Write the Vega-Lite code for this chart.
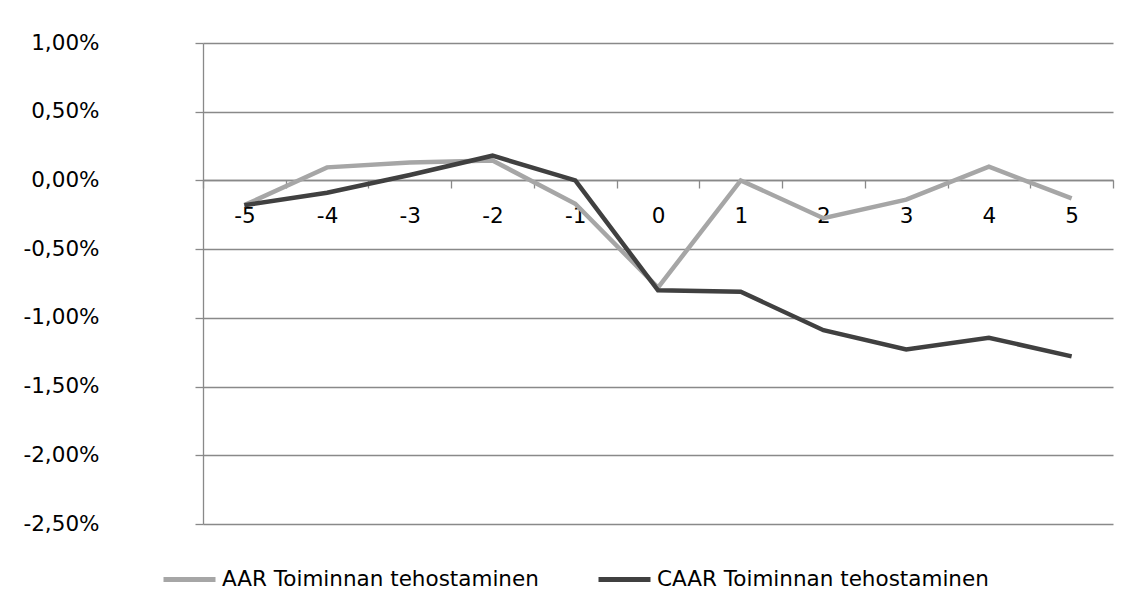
{
  "$schema": "https://vega.github.io/schema/vega-lite/v6.json",
  "width": 910,
  "height": 481,
  "autosize": {"type": "none"},
  "padding": {"left": 203, "top": 43, "right": 19, "bottom": 89},
  "background": "white",
  "data": {
    "values": [
      {"day": -5, "series": "AAR Toiminnan tehostaminen", "value": -0.0018},
      {"day": -4, "series": "AAR Toiminnan tehostaminen", "value": 0.00095},
      {"day": -3, "series": "AAR Toiminnan tehostaminen", "value": 0.0013},
      {"day": -2, "series": "AAR Toiminnan tehostaminen", "value": 0.00145},
      {"day": -1, "series": "AAR Toiminnan tehostaminen", "value": -0.0017},
      {"day": 0, "series": "AAR Toiminnan tehostaminen", "value": -0.0078},
      {"day": 1, "series": "AAR Toiminnan tehostaminen", "value": 0.0},
      {"day": 2, "series": "AAR Toiminnan tehostaminen", "value": -0.00275},
      {"day": 3, "series": "AAR Toiminnan tehostaminen", "value": -0.0014},
      {"day": 4, "series": "AAR Toiminnan tehostaminen", "value": 0.001},
      {"day": 5, "series": "AAR Toiminnan tehostaminen", "value": -0.0013},
      {"day": -5, "series": "CAAR Toiminnan tehostaminen", "value": -0.0018},
      {"day": -4, "series": "CAAR Toiminnan tehostaminen", "value": -0.0009},
      {"day": -3, "series": "CAAR Toiminnan tehostaminen", "value": 0.0004},
      {"day": -2, "series": "CAAR Toiminnan tehostaminen", "value": 0.0018},
      {"day": -1, "series": "CAAR Toiminnan tehostaminen", "value": 0.0},
      {"day": 0, "series": "CAAR Toiminnan tehostaminen", "value": -0.0080},
      {"day": 1, "series": "CAAR Toiminnan tehostaminen", "value": -0.0081},
      {"day": 2, "series": "CAAR Toiminnan tehostaminen", "value": -0.0109},
      {"day": 3, "series": "CAAR Toiminnan tehostaminen", "value": -0.0123},
      {"day": 4, "series": "CAAR Toiminnan tehostaminen", "value": -0.01145},
      {"day": 5, "series": "CAAR Toiminnan tehostaminen", "value": -0.0128}
    ]
  },
  "mark": {"type": "line", "strokeWidth": 4.5},
  "encoding": {
    "x": {
      "field": "day",
      "type": "ordinal",
      "bandPosition": 0.5,
      "scale": {"type": "band", "paddingInner": 0, "paddingOuter": 0},
      "axis": {
        "title": null,
        "orient": "bottom",
        "offset": -344,
        "labelAngle": 0,
        "domainColor": "#898989",
        "domainWidth": 1.3,
        "tickColor": "#898989",
        "tickWidth": 1.3,
        "tickSize": 8,
        "tickBand": "extent",
        "labelPadding": 17,
        "labelFont": "DejaVu Sans",
        "labelFontSize": 21.5,
        "labelColor": "#000000",
        "grid": false
      }
    },
    "y": {
      "field": "value",
      "type": "quantitative",
      "scale": {"domain": [-0.025, 0.01], "nice": false, "zero": false},
      "axis": {
        "title": null,
        "values": [-0.025, -0.02, -0.015, -0.01, -0.005, 0, 0.005, 0.01],
        "labelExpr": "replace(replace(format(datum.value, '.2%'), '.', ','), '\u2212', '-')",
        "domainColor": "#898989",
        "domainWidth": 1.3,
        "tickColor": "#898989",
        "tickWidth": 1.3,
        "tickSize": 8,
        "labelPadding": 96,
        "labelFont": "DejaVu Sans",
        "labelFontSize": 21.5,
        "labelColor": "#000000",
        "grid": true,
        "gridColor": "#898989",
        "gridWidth": 1.3,
        "gridOpacity": 1
      }
    },
    "color": {
      "field": "series",
      "type": "nominal",
      "scale": {
        "domain": ["AAR Toiminnan tehostaminen", "CAAR Toiminnan tehostaminen"],
        "range": ["#A6A6A6", "#404040"]
      },
      "legend": {
        "title": null,
        "orient": "none",
        "legendX": -42,
        "legendY": 508,
        "direction": "horizontal",
        "symbolType": "stroke",
        "symbolSize": 2704,
        "symbolStrokeWidth": 5,
        "labelFont": "DejaVu Sans",
        "labelFontSize": 21.5,
        "labelColor": "#000000",
        "labelLimit": 0,
        "labelOffset": 4,
        "columnPadding": 49,
        "padding": 0
      }
    }
  },
  "config": {"view": {"stroke": null}, "font": "DejaVu Sans"}
}
